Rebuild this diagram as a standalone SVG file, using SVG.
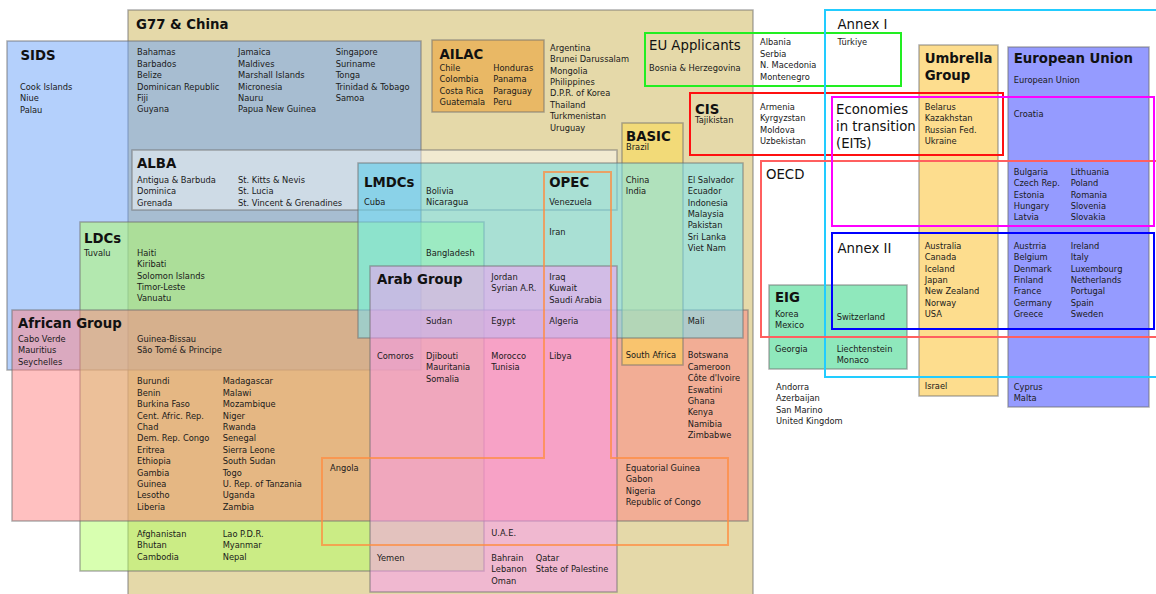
<svg xmlns="http://www.w3.org/2000/svg" width="1156" height="594" viewBox="0 0 1156 594">
<style>
.t{font-family:"DejaVu Sans","Liberation Sans",sans-serif;font-size:8.3px;fill:#1a1a1a}
.h{font-family:"DejaVu Sans","Liberation Sans",sans-serif;font-size:13.3px;font-weight:bold;fill:#111}
.hr{font-family:"DejaVu Sans","Liberation Sans",sans-serif;font-size:13.3px;fill:#111}
.box{stroke:#707070;stroke-opacity:.55;stroke-width:1.5}
.ol{fill:none;stroke-width:2}
</style>
<rect width="1156" height="594" fill="#ffffff"/>
<g id="shapes">
 <g id="g77"><rect class="box" x="128" y="10" width="625" height="600" fill="#e5d9a9"/><text class="h" x="136" y="28.7">G77 &amp; China</text></g>
 <g id="sids"><rect class="box" x="7" y="41" width="414" height="329" fill="#69a1f9" fill-opacity="0.5"/><text class="h" x="20.5" y="60">SIDS</text></g>
 <g id="alba"><path d="M132,150 H617 V163 H358 V210 H132 Z" fill="#ffffff" fill-opacity="0.45"/><rect class="box" x="132" y="150" width="485" height="60" fill="none"/><text class="h" x="137" y="168.3">ALBA</text></g>
 <g id="ldcs"><rect class="box" x="80" y="222" width="404" height="349" fill="#b1ff61" fill-opacity="0.5"/><text class="h" x="84" y="242.7">LDCs</text></g>
 <g id="african-group"><rect class="box" x="12" y="310" width="736" height="211" fill="#ff8181" fill-opacity="0.5"/><text class="h" x="18" y="328.3">African Group</text></g>
 <g id="basic"><rect class="box" x="622" y="123" width="61" height="242" fill="#ffdb47" fill-opacity="0.5"/><text class="h" x="626" y="141.3">BASIC</text></g>
 <g id="lmdcs"><rect class="box" x="358" y="163" width="385" height="175" fill="#6de7ff" fill-opacity="0.5"/><text class="h" x="364" y="186.7">LMDCs</text></g>
 <g id="arab-group"><rect class="box" x="370" y="266" width="247" height="326" fill="#fb97f7" fill-opacity="0.5"/><text class="h" x="377" y="284.3">Arab Group</text></g>
 <g id="ailac"><rect class="box" x="432" y="40" width="112" height="72" fill="#e9b865"/><text class="h" x="439.5" y="59.3">AILAC</text></g>
 <g id="eig"><rect class="box" x="769" y="285" width="138" height="84" fill="#8fe8bc"/><text class="h" x="775" y="302.3">EIG</text></g>
 <g id="umbrella-group"><rect class="box" x="919" y="45" width="79" height="351" fill="#fddd8e"/><text class="h" x="924.7" y="63.3">Umbrella</text><text class="h" x="924.7" y="80">Group</text></g>
 <g id="european-union"><rect class="box" x="1008" y="47" width="141" height="360" fill="#959bff"/><text class="h" x="1013.7" y="63.3">European Union</text></g>
 <g id="opec"><polygon class="ol" points="544,172 611,172 611,458 728,458 728,545 322,545 322,458 544,458" stroke="#ff8c40" stroke-opacity="0.75"/><text class="h" x="549.3" y="186.7">OPEC</text></g>
 <g id="eu-applicants"><rect class="ol" x="645" y="33" width="256" height="53" stroke="#22ee22"/><text class="hr" x="649" y="50">EU Applicants</text></g>
 <g id="cis"><rect class="ol" x="690" y="93" width="313" height="62" stroke="#ff1010"/><text class="h" x="695" y="114.3">CIS</text></g>
 <g id="annex-i"><rect class="ol" x="825" y="10" width="345" height="367" stroke="#22ccff"/><text class="hr" x="837.5" y="28.7">Annex I</text></g>
 <g id="oecd"><rect class="ol" x="761" y="161" width="405" height="176" stroke="#ff5f5f"/><text class="hr" x="766" y="178.7">OECD</text></g>
 <g id="eits"><rect class="ol" x="832" y="97" width="322" height="129" stroke="#ff00ff"/><text class="hr" x="836" y="114.3">Economies</text><text class="hr" x="836" y="131">in transition</text><text class="hr" x="836" y="147.7">(EITs)</text></g>
 <g id="annex-ii"><rect class="ol" x="832" y="233" width="322" height="96" stroke="#0000ff"/><text class="hr" x="837.5" y="252.7">Annex II</text></g>
</g>
<g id="connectors"/>
<g id="labels">
 <g id="sids-labels">
  <text class="t" x="20" y="90"><tspan x="20">Cook Islands</tspan><tspan x="20" dy="11.4">Niue</tspan><tspan x="20" dy="11.4">Palau</tspan></text>
  <text class="t" x="137" y="55.3"><tspan x="137">Bahamas</tspan><tspan x="137" dy="11.4">Barbados</tspan><tspan x="137" dy="11.4">Belize</tspan><tspan x="137" dy="11.4">Dominican Republic</tspan><tspan x="137" dy="11.4">Fiji</tspan><tspan x="137" dy="11.4">Guyana</tspan></text>
  <text class="t" x="238" y="55.3"><tspan x="238">Jamaica</tspan><tspan x="238" dy="11.4">Maldives</tspan><tspan x="238" dy="11.4">Marshall Islands</tspan><tspan x="238" dy="11.4">Micronesia</tspan><tspan x="238" dy="11.4">Nauru</tspan><tspan x="238" dy="11.4">Papua New Guinea</tspan></text>
  <text class="t" x="335.7" y="55.3"><tspan x="335.7">Singapore</tspan><tspan x="335.7" dy="11.4">Suriname</tspan><tspan x="335.7" dy="11.4">Tonga</tspan><tspan x="335.7" dy="11.4">Trinidad &amp; Tobago</tspan><tspan x="335.7" dy="11.4">Samoa</tspan></text>
 </g>
 <g id="ailac-labels">
  <text class="t" x="439.5" y="70.7"><tspan x="439.5">Chile</tspan><tspan x="439.5" dy="11.4">Colombia</tspan><tspan x="439.5" dy="11.4">Costa Rica</tspan><tspan x="439.5" dy="11.4">Guatemala</tspan></text>
  <text class="t" x="493.3" y="70.7"><tspan x="493.3">Honduras</tspan><tspan x="493.3" dy="11.4">Panama</tspan><tspan x="493.3" dy="11.4">Paraguay</tspan><tspan x="493.3" dy="11.4">Peru</tspan></text>
 </g>
 <g id="g77-labels">
  <text class="t" x="550" y="50.7"><tspan x="550">Argentina</tspan><tspan x="550" dy="11.4">Brunei Darussalam</tspan><tspan x="550" dy="11.4">Mongolia</tspan><tspan x="550" dy="11.4">Philippines</tspan><tspan x="550" dy="11.4">D.P.R. of Korea</tspan><tspan x="550" dy="11.4">Thailand</tspan><tspan x="550" dy="11.4">Turkmenistan</tspan><tspan x="550" dy="11.4">Uruguay</tspan></text>
  <text class="t" x="649" y="71">Bosnia &amp; Herzegovina</text>
  <text class="t" x="695" y="123">Tajikistan</text>
  <text class="t" x="626" y="150">Brazil</text>
 </g>
 <g id="eu-applicants-labels">
  <text class="t" x="760" y="45.3"><tspan x="760">Albania</tspan><tspan x="760" dy="11.4">Serbia</tspan><tspan x="760" dy="11.4">N. Macedonia</tspan><tspan x="760" dy="11.4">Montenegro</tspan></text>
  <text class="t" x="837.5" y="45.3">Türkiye</text>
 </g>
 <g id="cis-labels">
  <text class="t" x="760" y="110"><tspan x="760">Armenia</tspan><tspan x="760" dy="11.4">Kyrgyzstan</tspan><tspan x="760" dy="11.4">Moldova</tspan><tspan x="760" dy="11.4">Uzbekistan</tspan></text>
  <text class="t" x="924.7" y="110"><tspan x="924.7">Belarus</tspan><tspan x="924.7" dy="11.4">Kazakhstan</tspan><tspan x="924.7" dy="11.4">Russian Fed.</tspan><tspan x="924.7" dy="11.4">Ukraine</tspan></text>
 </g>
 <g id="eu-labels">
  <text class="t" x="1013.7" y="83.3">European Union</text>
  <text class="t" x="1013.7" y="116.7">Croatia</text>
  <text class="t" x="1013.7" y="174.7"><tspan x="1013.7">Bulgaria</tspan><tspan x="1013.7" dy="11.4">Czech Rep.</tspan><tspan x="1013.7" dy="11.4">Estonia</tspan><tspan x="1013.7" dy="11.4">Hungary</tspan><tspan x="1013.7" dy="11.4">Latvia</tspan></text>
  <text class="t" x="1070.7" y="174.7"><tspan x="1070.7">Lithuania</tspan><tspan x="1070.7" dy="11.4">Poland</tspan><tspan x="1070.7" dy="11.4">Romania</tspan><tspan x="1070.7" dy="11.4">Slovenia</tspan><tspan x="1070.7" dy="11.4">Slovakia</tspan></text>
  <text class="t" x="1013.7" y="248.7"><tspan x="1013.7">Austrria</tspan><tspan x="1013.7" dy="11.4">Belgium</tspan><tspan x="1013.7" dy="11.4">Denmark</tspan><tspan x="1013.7" dy="11.4">Finland</tspan><tspan x="1013.7" dy="11.4">France</tspan><tspan x="1013.7" dy="11.4">Germany</tspan><tspan x="1013.7" dy="11.4">Greece</tspan></text>
  <text class="t" x="1070.7" y="248.7"><tspan x="1070.7">Ireland</tspan><tspan x="1070.7" dy="11.4">Italy</tspan><tspan x="1070.7" dy="11.4">Luxembourg</tspan><tspan x="1070.7" dy="11.4">Netherlands</tspan><tspan x="1070.7" dy="11.4">Portugal</tspan><tspan x="1070.7" dy="11.4">Spain</tspan><tspan x="1070.7" dy="11.4">Sweden</tspan></text>
  <text class="t" x="1013.7" y="389.7"><tspan x="1013.7">Cyprus</tspan><tspan x="1013.7" dy="11.4">Malta</tspan></text>
 </g>
 <g id="umbrella-labels">
  <text class="t" x="924.7" y="248.7"><tspan x="924.7">Australia</tspan><tspan x="924.7" dy="11.4">Canada</tspan><tspan x="924.7" dy="11.4">Iceland</tspan><tspan x="924.7" dy="11.4">Japan</tspan><tspan x="924.7" dy="11.4">New Zealand</tspan><tspan x="924.7" dy="11.4">Norway</tspan><tspan x="924.7" dy="11.4">USA</tspan></text>
  <text class="t" x="924.7" y="389.3">Israel</text>
 </g>
 <g id="eig-labels">
  <text class="t" x="775" y="316.7"><tspan x="775">Korea</tspan><tspan x="775" dy="11.4">Mexico</tspan></text>
  <text class="t" x="836.7" y="320">Switzerland</text>
  <text class="t" x="775" y="351.7">Georgia</text>
  <text class="t" x="836.7" y="351.7"><tspan x="836.7">Liechtenstein</tspan><tspan x="836.7" dy="11.4">Monaco</tspan></text>
 </g>
 <g id="other-labels">
  <text class="t" x="776" y="390"><tspan x="776">Andorra</tspan><tspan x="776" dy="11.4">Azerbaijan</tspan><tspan x="776" dy="11.4">San Marino</tspan><tspan x="776" dy="11.4">United Kingdom</tspan></text>
 </g>
 <g id="alba-labels">
  <text class="t" x="137" y="182.7"><tspan x="137">Antigua &amp; Barbuda</tspan><tspan x="137" dy="11.4">Dominica</tspan><tspan x="137" dy="11.4">Grenada</tspan></text>
  <text class="t" x="238" y="182.7"><tspan x="238">St. Kitts &amp; Nevis</tspan><tspan x="238" dy="11.4">St. Lucia</tspan><tspan x="238" dy="11.4">St. Vincent &amp; Grenadines</tspan></text>
 </g>
 <g id="lmdcs-labels">
  <text class="t" x="364" y="205">Cuba</text>
  <text class="t" x="426" y="193.6"><tspan x="426">Bolivia</tspan><tspan x="426" dy="11.4">Nicaragua</tspan></text>
  <text class="t" x="549.3" y="205">Venezuela</text>
  <text class="t" x="549.3" y="234.7">Iran</text>
  <text class="t" x="625.7" y="182.7"><tspan x="625.7">China</tspan><tspan x="625.7" dy="11.4">India</tspan></text>
  <text class="t" x="687.7" y="182.7"><tspan x="687.7">El Salvador</tspan><tspan x="687.7" dy="11.4">Ecuador</tspan><tspan x="687.7" dy="11.4">Indonesia</tspan><tspan x="687.7" dy="11.4">Malaysia</tspan><tspan x="687.7" dy="11.4">Pakistan</tspan><tspan x="687.7" dy="11.4">Sri Lanka</tspan><tspan x="687.7" dy="11.4">Viet Nam</tspan></text>
  <text class="t" x="426" y="255.7">Bangladesh</text>
 </g>
 <g id="arab-labels">
  <text class="t" x="491.3" y="280"><tspan x="491.3">Jordan</tspan><tspan x="491.3" dy="11.4">Syrian A.R.</tspan></text>
  <text class="t" x="549.3" y="280"><tspan x="549.3">Iraq</tspan><tspan x="549.3" dy="11.4">Kuwait</tspan><tspan x="549.3" dy="11.4">Saudi Arabia</tspan></text>
  <text class="t" x="426" y="324">Sudan</text>
  <text class="t" x="491.3" y="324">Egypt</text>
  <text class="t" x="549.3" y="324">Algeria</text>
  <text class="t" x="687.7" y="324">Mali</text>
  <text class="t" x="377" y="358.7">Comoros</text>
  <text class="t" x="426" y="358.7"><tspan x="426">Djibouti</tspan><tspan x="426" dy="11.4">Mauritania</tspan><tspan x="426" dy="11.4">Somalia</tspan></text>
  <text class="t" x="491.3" y="358.7"><tspan x="491.3">Morocco</tspan><tspan x="491.3" dy="11.4">Tunisia</tspan></text>
  <text class="t" x="549.3" y="358.7">Libya</text>
  <text class="t" x="491.3" y="536">U.A.E.</text>
  <text class="t" x="377" y="561">Yemen</text>
  <text class="t" x="491.3" y="561"><tspan x="491.3">Bahrain</tspan><tspan x="491.3" dy="11.4">Lebanon</tspan><tspan x="491.3" dy="11.4">Oman</tspan></text>
  <text class="t" x="535.7" y="561"><tspan x="535.7">Qatar</tspan><tspan x="535.7" dy="11.4">State of Palestine</tspan></text>
 </g>
 <g id="african-labels">
  <text class="t" x="625.7" y="357.7">South Africa</text>
  <text class="t" x="687.7" y="358.3"><tspan x="687.7">Botswana</tspan><tspan x="687.7" dy="11.4">Cameroon</tspan><tspan x="687.7" dy="11.4">Côte d'Ivoire</tspan><tspan x="687.7" dy="11.4">Eswatini</tspan><tspan x="687.7" dy="11.4">Ghana</tspan><tspan x="687.7" dy="11.4">Kenya</tspan><tspan x="687.7" dy="11.4">Namibia</tspan><tspan x="687.7" dy="11.4">Zimbabwe</tspan></text>
  <text class="t" x="625.7" y="470.7"><tspan x="625.7">Equatorial Guinea</tspan><tspan x="625.7" dy="11.4">Gabon</tspan><tspan x="625.7" dy="11.4">Nigeria</tspan><tspan x="625.7" dy="11.4">Republic of Congo</tspan></text>
  <text class="t" x="330" y="470.7">Angola</text>
  <text class="t" x="18" y="341.7"><tspan x="18">Cabo Verde</tspan><tspan x="18" dy="11.4">Mauritius</tspan><tspan x="18" dy="11.4">Seychelles</tspan></text>
  <text class="t" x="137" y="341.7"><tspan x="137">Guinea-Bissau</tspan><tspan x="137" dy="11.4">São Tomé &amp; Principe</tspan></text>
  <text class="t" x="137" y="384.3"><tspan x="137">Burundi</tspan><tspan x="137" dy="11.4">Benin</tspan><tspan x="137" dy="11.4">Burkina Faso</tspan><tspan x="137" dy="11.4">Cent. Afric. Rep.</tspan><tspan x="137" dy="11.4">Chad</tspan><tspan x="137" dy="11.4">Dem. Rep. Congo</tspan><tspan x="137" dy="11.4">Eritrea</tspan><tspan x="137" dy="11.4">Ethiopia</tspan><tspan x="137" dy="11.4">Gambia</tspan><tspan x="137" dy="11.4">Guinea</tspan><tspan x="137" dy="11.4">Lesotho</tspan><tspan x="137" dy="11.4">Liberia</tspan></text>
  <text class="t" x="222.7" y="384.3"><tspan x="222.7">Madagascar</tspan><tspan x="222.7" dy="11.4">Malawi</tspan><tspan x="222.7" dy="11.4">Mozambique</tspan><tspan x="222.7" dy="11.4">Niger</tspan><tspan x="222.7" dy="11.4">Rwanda</tspan><tspan x="222.7" dy="11.4">Senegal</tspan><tspan x="222.7" dy="11.4">Sierra Leone</tspan><tspan x="222.7" dy="11.4">South Sudan</tspan><tspan x="222.7" dy="11.4">Togo</tspan><tspan x="222.7" dy="11.4">U. Rep. of Tanzania</tspan><tspan x="222.7" dy="11.4">Uganda</tspan><tspan x="222.7" dy="11.4">Zambia</tspan></text>
 </g>
 <g id="ldcs-labels">
  <text class="t" x="84" y="255.7">Tuvalu</text>
  <text class="t" x="137" y="255.7"><tspan x="137">Haiti</tspan><tspan x="137" dy="11.4">Kiribati</tspan><tspan x="137" dy="11.4">Solomon Islands</tspan><tspan x="137" dy="11.4">Timor-Leste</tspan><tspan x="137" dy="11.4">Vanuatu</tspan></text>
  <text class="t" x="137" y="536.7"><tspan x="137">Afghanistan</tspan><tspan x="137" dy="11.4">Bhutan</tspan><tspan x="137" dy="11.4">Cambodia</tspan></text>
  <text class="t" x="222.7" y="536.7"><tspan x="222.7">Lao P.D.R.</tspan><tspan x="222.7" dy="11.4">Myanmar</tspan><tspan x="222.7" dy="11.4">Nepal</tspan></text>
 </g>
</g>
</svg>
